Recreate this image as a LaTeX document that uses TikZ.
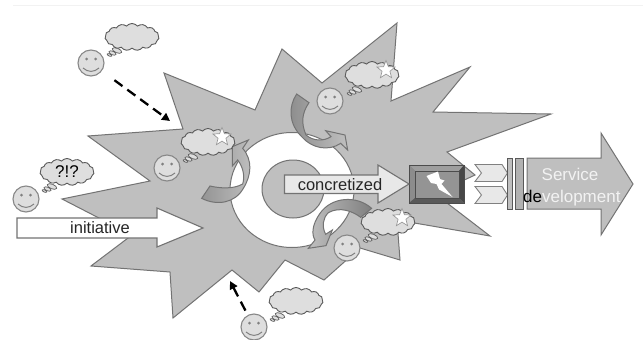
\documentclass[tikz,border=0pt]{standalone}
\usepackage{fontspec}
\setmainfont{Liberation Sans}
\usetikzlibrary{shapes.geometric,shapes.symbols,arrows.meta}
\definecolor{edge}{gray}{0.45}
\definecolor{starfill}{gray}{0.75}
\definecolor{pale}{gray}{0.87}
\tikzset{
  staredge/.style={draw=edge,line width=1pt,line join=miter},
  face/.style={circle,draw=edge!85,fill=pale,line width=1.1pt,minimum size=26pt,inner sep=0pt},
  thought/.style={cloud,cloud puffs=15,cloud puff arc=100,aspect=2,draw=black!65,fill=pale,line width=0.9pt,minimum width=54pt,minimum height=27pt,inner sep=0pt,font=\fontsize{17}{18}\selectfont},
  bubble/.style={draw=black!65,fill=pale,line width=0.7pt},
  idea/.style={star,star points=5,star point ratio=2.3,draw=black!40,fill=white,line width=0.7pt,minimum size=19pt,inner sep=0pt},
  curved/.style={draw=edge,line width=1pt,line join=miter},
  lightbox/.style={draw=black!55,line width=1.1pt,line join=miter},
  label/.style={font=\fontsize{16.5}{18}\selectfont,text=black!85,inner sep=0pt},
  svc/.style={font=\fontsize{17}{19}\selectfont,text=black!5,inner sep=0pt,anchor=base west},
  pushline/.style={draw=black,line width=2.3pt,dash pattern=on 10pt off 6pt,-{Triangle[length=8pt,width=8pt]}}
}
\newcommand{\smileface}[3]{%
  \node[face] (#1) at (#2,#3) {};
  \fill[black!50] (#2-4.5,#3-4) circle (1.5pt) (#2+4.5,#3-4) circle (1.5pt);
  \draw[black!50,line width=1pt] (#2-8,#3+5) .. controls (#2-3,#3+9.5) and (#2+3,#3+9.5) .. (#2+8,#3+5);
}
\newcommand{\tailbubbles}[2]{%
  \draw[bubble,rotate around={-22:(#1+10,#2-5.5)}] (#1+10,#2-5.5) ellipse (5pt and 2.3pt);
  \draw[bubble,rotate around={-22:(#1+5.5,#2-3)}] (#1+5.5,#2-3) ellipse (3.8pt and 1.8pt);
  \draw[bubble,rotate around={-22:(#1+2.5,#2-1)}] (#1+2.5,#2-1) ellipse (2.5pt and 1.1pt);
}
\begin{document}
\begin{tikzpicture}[x=1pt,y=-1pt]
\useasboundingbox (0,0) rectangle (643,340);
\fill[white] (0,0) rectangle (643,340);
\draw[black!5,line width=0.6pt] (13,5) -- (643,5);

% burst
\path[staredge,fill=starfill] (164,73) -- (255,110) -- (282,49) -- (322,83) -- (397,23) -- (391,101)
  -- (470,67) -- (433,112) -- (551,114) -- (447,152) -- (475,175) -- (460,182) -- (447,203) -- (490,236)
  -- (397,220) -- (400,260) -- (360,248) -- (324,280) -- (285,260) -- (259,292) -- (232,270)
  -- (173,318) -- (170,272) -- (91,266) -- (132,235) -- (62,199) -- (150,181) -- (88,136) -- (183,129) -- cycle;

% hole and core
\path[staredge,fill=white] (292,190) ellipse (62pt and 57.5pt);
\path[staredge,fill=starfill] (293,189) ellipse (31pt and 29pt);

% curved arrows (coordinates of the scope in thirds of a pixel)
\begin{scope}[x=0.33333pt,y=-0.33333pt,shift={(600,240)}]
  \path[curved,left color=black!42,right color=black!25]
    (5,355) .. controls (50,378) and (105,370) .. (130,325) .. controls (155,285) and (158,240) .. (128,205)
    -- (145,180) -- (97,200) -- (97,258) -- (113,240) .. controls (130,262) and (135,290) .. (128,312)
    .. controls (100,328) and (60,325) .. (30,318) -- cycle;
  \path[curved,left color=black!45,right color=black!25]
    (290,42) .. controls (265,80) and (265,130) .. (305,170) .. controls (335,205) and (385,215) .. (422,190)
    -- (443,210) -- (435,165) -- (377,152) -- (393,170) .. controls (372,184) and (340,184) .. (318,165)
    .. controls (303,130) and (305,100) .. (327,68) -- cycle;
  \path[curved,left color=black!25,right color=black!50]
    (515,385) .. controls (470,345) and (395,350) .. (360,400) .. controls (335,435) and (335,465) .. (345,480)
    -- (325,505) -- (378,497) -- (397,450) -- (377,463) .. controls (365,440) and (368,415) .. (385,398)
    .. controls (420,378) and (460,395) .. (482,412) -- cycle;
\end{scope}

% dashed pushes
\coordinate (pushA) at (170,121);
\coordinate (pushB) at (230,281);

% people and thoughts
\smileface{faceA}{91}{63}
\smileface{faceB}{167}{168}
\smileface{faceC}{330}{101}
\smileface{faceD}{26}{199}
\smileface{faceE}{254}{327}
\smileface{faceF}{347}{248}

\tailbubbles{107}{56}
\tailbubbles{183}{162}
\tailbubbles{347}{95}
\tailbubbles{42}{192}
\tailbubbles{270}{321}
\tailbubbles{363}{242}

\node[thought] (cloudA) at (132,37) {};
\node[thought] (cloudB) at (208,142) {};
\node[thought] (cloudC) at (372,75) {};
\node[thought] (cloudD) at (67,172) {?!?};
\node[thought] (cloudE) at (296,301) {};
\node[thought] (cloudF) at (388,222) {};
\node[idea] (starB) at (222,137) {};
\node[idea] (starC) at (386,70) {};
\node[idea] (starF) at (402,218) {};

\draw[pushline,shorten <=15.5pt] (faceA) -- (pushA);
\draw[pushline,shorten <=5pt] (faceE) -- (pushB);

% initiative arrow
\path[lightbox,fill=white] (17,218) -- (157,218) -- (157,208) -- (203,228) -- (157,247) -- (157,238) -- (17,238) -- cycle;
\node[label] (initiative) at (100,228) {initiative};

% machine
\fill[black!50] (409,165) rectangle (464,203);
\fill[black!38] (409,165) -- (464,165) -- (459,171) -- (415,171) -- cycle;
\fill[black!45] (409,165) -- (415,171) -- (415,198) -- (409,203) -- cycle;
\fill[black!72] (464,165) -- (459,171) -- (459,198) -- (464,203) -- cycle;
\fill[black!65] (409,203) -- (415,198) -- (459,198) -- (464,203) -- cycle;
\draw[black!70,line width=0.8pt] (409,165) rectangle (464,203);
\path[draw=black!70,fill=black!42,line width=0.8pt] (415,171) rectangle (459,198);
\path[fill=white] (426.5,176) -- (438,171.5) -- (440,179) -- (444.5,180.5) -- (441.5,184) -- (452.5,197) -- (439,189.5) -- (436.5,184) -- (431,183) -- cycle;

% concretized arrow
\path[lightbox,fill=black!9] (284.5,175) -- (378,175) -- (378,165) -- (409,184) -- (378,203) -- (378,193.5) -- (284.5,193.5) -- cycle;
\node[label] (concretized) at (340,185) {concretized};

% chevrons and bars
\path[draw=black!50,fill=black!9,line width=0.9pt] (475,164.5) -- (502,164.5) -- (507.5,173) -- (502,181.5) -- (475,181.5) -- (481.5,173) -- cycle;
\path[draw=black!50,fill=black!9,line width=0.9pt] (475,186.5) -- (502,186.5) -- (507.5,195) -- (502,203.5) -- (475,203.5) -- (481.5,195) -- cycle;
\path[draw=black!65,fill=black!25,line width=0.8pt] (507.5,158) rectangle (512,209);
\path[draw=black!65,fill=black!30,line width=0.8pt] (515,158) rectangle (523.5,209);

% service arrow
\path[staredge,fill=starfill] (527,158) -- (601,158) -- (601,133) -- (633,184) -- (601,235) -- (601,209) -- (527,209) -- cycle;
\node[font=\fontsize{17}{19}\selectfont,text=black!5,inner sep=0pt] (service) at (570,174) {Service};
\node[svc] (devA) at (523,202) {\textcolor{black}{de}\textcolor{black!5}{velopment}};
\end{tikzpicture}
\end{document}
